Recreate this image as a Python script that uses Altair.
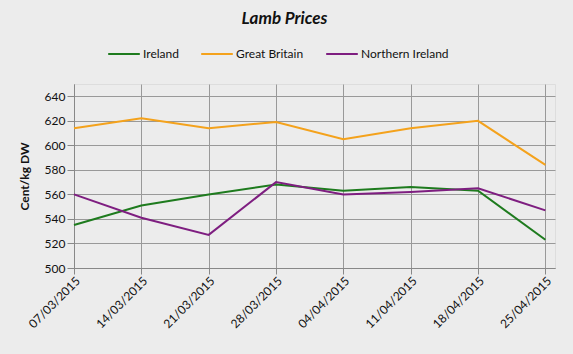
import altair as alt
import pandas as pd

dates = ["2015-03-07", "2015-03-14", "2015-03-21", "2015-03-28",
         "2015-04-04", "2015-04-11", "2015-04-18", "2015-04-25"]
ireland = [535, 551, 560, 568, 563, 566, 563, 523]
great_britain = [614, 622, 614, 619, 605, 614, 620, 584]
northern_ireland = [560, 541, 527, 570, 560, 562, 565, 547]
series_names = ["Ireland", "Great Britain", "Northern Ireland"]
colors = ["#1E7B1E", "#F4A21C", "#7E1E80"]

rows = []
for name, vals in zip(series_names, [ireland, great_britain, northern_ireland]):
    for d, v in zip(dates, vals):
        rows.append({"date": d, "value": v, "series": name})
df = pd.DataFrame(rows)

FONT = "Lato"

chart = alt.Chart(df).mark_line(strokeWidth=2).encode(
    x=alt.X("date:T",
            scale=alt.Scale(type="utc", domain=["2015-03-07", "2015-04-26"], nice=False),
            axis=alt.Axis(values=dates, format="%d/%m/%Y", formatType="time",
                          labelAngle=-45, title=None, labelFontSize=12,
                          labelColor="#111", tickColor="#888", tickSize=6,
                          domainColor="#888", gridColor="#999", labelPadding=1)),
    y=alt.Y("value:Q",
            scale=alt.Scale(domain=[500, 650], nice=False, zero=False),
            axis=alt.Axis(values=list(range(500, 660, 20)), title="Cent/kg DW",
                          titleFontSize=12, titleFontWeight="bold", titleColor="#111",
                          labelFontSize=12, labelColor="#111", tickColor="#888",
                          tickSize=7, domainColor="#888", gridColor="#999",
                          titlePadding=13)),
    color=alt.Color("series:N",
                    scale=alt.Scale(domain=series_names, range=colors),
                    legend=alt.Legend(orient="none", direction="horizontal",
                                      legendX=33, legendY=-47, title=None,
                                      symbolType="stroke", symbolSize=1000,
                                      symbolStrokeWidth=2, labelFontSize=12,
                                      labelColor="#111", columnPadding=18,
                                      labelOffset=2)),
).properties(
    width=481, height=184,
    title=alt.TitleParams("Lamb Prices", fontSize=17, fontWeight="bold",
                          fontStyle="italic", color="#111", offset=9, dx=-30),
    background="#ECECEC",
    padding={"left": 74, "top": 84, "right": 18, "bottom": 86},
    autosize="none",
).configure_view(
    fill="white", stroke="#333", strokeWidth=1.5
).configure(font=FONT)

chart.save("out.html", embed_options={"renderer": "svg", "actions": False})
